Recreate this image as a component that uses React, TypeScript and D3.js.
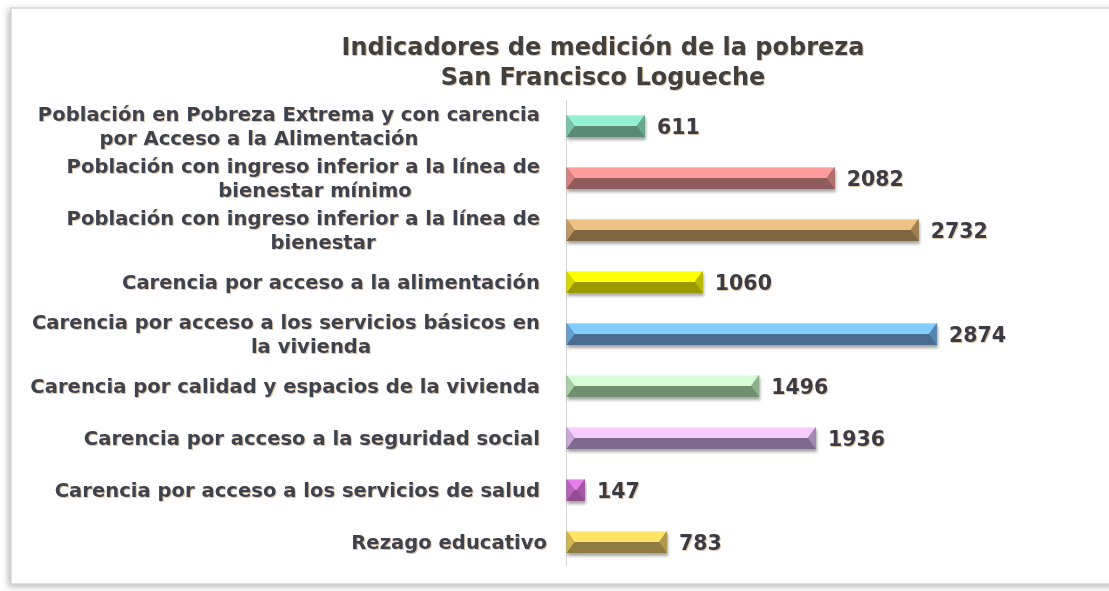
import React from "react";
import * as d3 from "d3";

const categories: string[][] = [
  ["Población en Pobreza Extrema y con carencia", "por Acceso a la Alimentación"],
  ["Población con ingreso inferior a la línea de", "bienestar mínimo"],
  ["Población con ingreso inferior a la línea de", "bienestar"],
  ["Carencia por acceso a la alimentación"],
  ["Carencia por acceso a los servicios básicos en", "la vivienda"],
  ["Carencia por calidad y espacios de la vivienda"],
  ["Carencia por acceso a la seguridad social"],
  ["Carencia por acceso a los servicios de salud"],
  ["Rezago educativo"],
];
const values: number[] = [611, 2082, 2732, 1060, 2874, 1496, 1936, 147, 783];
const topColors: string[] = ["#93f0d2", "#ff9c9c", "#efc182", "#ffff00", "#82ccff", "#d6fdd6", "#f6ccff", "#e67de8", "#ffe466"];
const bottomColors: string[] = ["#5a8a74", "#8f5b5b", "#7f6541", "#9a9a00", "#4a6a8f", "#6f8f70", "#7f6a8f", "#8f4c8f", "#8f7a42"];
const sideColors: string[] = ["#78c4a8", "#d98080", "#c09a62", "#d8d800", "#66a0d0", "#a8d0a8", "#c8a8d8", "#b862ba", "#cfb650"];
const titleLines: string[] = ["Indicadores de medición de la pobreza", "San Francisco Logueche"];

const FONT = "'DejaVu Sans', Verdana, sans-serif";
const TEXT = "#3e4250";

export default function App() {
  const W = 1109, H = 591;
  const x = d3.scaleLinear().domain([0, 3000]).range([566, 953.3]);
  const ids = categories.map((_, i) => String(i));
  const y = d3.scalePoint<string>().domain(ids).range([126, 542]);
  const bh = 22;
  const bev = 8;
  const labelRight = 540;
  const line2Center: Record<number, number> = { 0: 259, 1: 315, 2: 323, 4: 311 };

  return (
    <svg width={W} height={H} style={{ position: "absolute", left: 0, top: 0, background: "#fff" }}>
      <defs>
        <filter id="frameShadow" x="-5%" y="-5%" width="110%" height="110%">
          <feDropShadow dx="-2" dy="2" stdDeviation="3" floodColor="#000" floodOpacity="0.3" />
        </filter>
        <filter id="barShadow" x="-10%" y="-40%" width="120%" height="200%">
          <feDropShadow dx="1" dy="3" stdDeviation="1.5" floodColor="#000" floodOpacity="0.35" />
        </filter>
        <filter id="textShadow" x="-5%" y="-20%" width="110%" height="140%">
          <feDropShadow dx="1" dy="1" stdDeviation="0.6" floodColor="#b08040" floodOpacity="0.45" />
        </filter>
      </defs>
      <rect x={11} y={8} width={1120} height={576} fill="#fff" stroke="#c4c4c4" strokeWidth={1} filter="url(#frameShadow)" />
      <g fontFamily={FONT} fontWeight="bold" fill="#404040" textAnchor="middle" filter="url(#textShadow)">
        {titleLines.map((t, i) => (
          <text key={i} x={603} y={47 + i * 30} dy="0.35em" fontSize={24}>{t}</text>
        ))}
      </g>
      <line x1={566.5} x2={566.5} y1={100} y2={566} stroke="#d4d4d4" strokeWidth={1} />
      <g filter="url(#textShadow)" fontFamily={FONT} fontWeight="bold" fill={TEXT} fontSize={19.6}>
        {categories.map((lines, i) => {
          const cy = y(String(i))!;
          if (lines.length === 1) {
            return <text key={i} x={i === categories.length - 1 ? 547 : labelRight} y={cy} dy="0.35em" textAnchor="end">{lines[0]}</text>;
          }
          return (
            <g key={i}>
              <text x={labelRight} y={cy - 12} dy="0.35em" textAnchor="end">{lines[0]}</text>
              <text x={line2Center[i]} y={cy + 12} dy="0.35em" textAnchor="middle">{lines[1]}</text>
            </g>
          );
        })}
      </g>
      {values.map((v, i) => {
        const cy = y(String(i))!;
        const x0 = x(0) + 0.5, x1 = x(v);
        const y0 = cy - bh / 2, y1 = cy + bh / 2, ym = cy;
        const b = Math.min(bev, (x1 - x0) / 2);
        const pts = (p: number[][]) => p.map((q) => q.join(",")).join(" ");
        return (
          <g key={i}>
            <g filter="url(#barShadow)">
              <rect x={x0} y={y0} width={x1 - x0} height={bh} fill={bottomColors[i]} />
            </g>
            <polygon points={pts([[x0, y0], [x1, y0], [x1 - b, ym], [x0 + b, ym]])} fill={topColors[i]} />
            <polygon points={pts([[x0 + b, ym], [x1 - b, ym], [x1, y1], [x0, y1]])} fill={bottomColors[i]} />
            <polygon points={pts([[x0, y0], [x0 + b, ym], [x0, y1]])} fill={sideColors[i]} />
            <polygon points={pts([[x1, y0], [x1 - b, ym], [x1, y1]])} fill={d3.interpolateRgb(sideColors[i], bottomColors[i])(0.5)} />
            <line x1={x0} x2={x1} y1={y0 + 0.5} y2={y0 + 0.5} stroke="#fff" strokeOpacity={0.35} />
          </g>
        );
      })}
      <g filter="url(#textShadow)" fontFamily={FONT} fontWeight="bold" fill="#3a3a44" fontSize={20.5}>
        {values.map((v, i) => (
          <text key={i} x={x(v) + 12} y={y(String(i))!} dy="0.38em">{v}</text>
        ))}
      </g>
    </svg>
  );
}
